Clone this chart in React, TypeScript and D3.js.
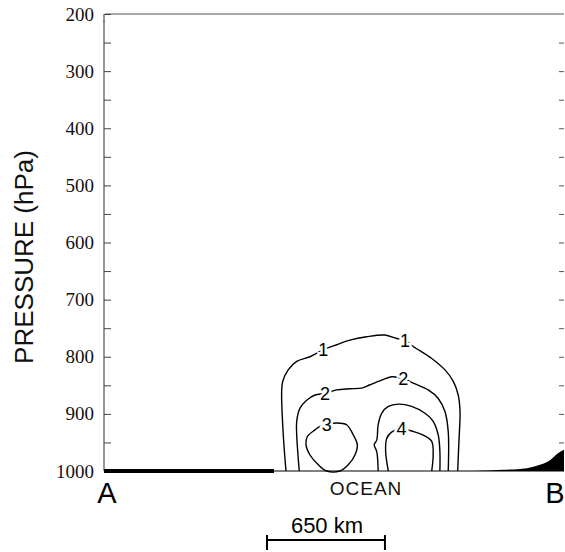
import { useRef, useEffect } from "react";
import * as d3 from "d3";

// distance along A-B in km, pressure in hPa
const contour1: [number, number][] = [
  [1003, 1000], [988, 937], [979, 861], [985, 843], [1015, 823], [1062, 808],
  [1135, 800], [1208, 788], [1282, 779], [1355, 771], [1447, 765], [1548, 762],
  [1613, 768], [1659, 771], [1704, 782], [1806, 803], [1879, 823], [1925, 843],
  [1952, 867], [1962, 896], [1956, 948], [1949, 1000],
];
const contour2: [number, number][] = [
  [1076, 1000], [1062, 937], [1062, 913], [1080, 890], [1117, 876], [1163, 867],
  [1218, 864], [1282, 858], [1355, 856], [1420, 855], [1466, 849], [1530, 841],
  [1585, 835], [1649, 838], [1704, 846], [1787, 858], [1842, 873], [1879, 896],
  [1897, 931], [1897, 1000],
];
const contour3Left: [number, number][] = [
  [1227, 919], [1282, 916], [1337, 919], [1374, 937], [1396, 954], [1383, 972],
  [1346, 989], [1300, 1000], [1227, 1000], [1181, 989], [1135, 972], [1113, 954],
  [1120, 940], [1163, 928], [1190, 922],
];
const contour3Right: [number, number][] = [
  [1511, 1000], [1503, 966], [1489, 954], [1503, 946], [1511, 919], [1530, 899],
  [1567, 887], [1622, 883], [1695, 887], [1769, 899], [1814, 913], [1842, 937],
  [1851, 966], [1851, 1000],
];
const contour4: [number, number][] = [
  [1567, 1000], [1552, 966], [1558, 943], [1585, 932], [1640, 925], [1695, 930],
  [1759, 937], [1806, 948], [1814, 972], [1806, 1000],
];
const contourLabels: { text: string; km: number; p: number }[] = [
  { text: "1", km: 1208, p: 788 },
  { text: "1", km: 1659, p: 771 },
  { text: "2", km: 1218, p: 864 },
  { text: "2", km: 1649, p: 838 },
  { text: "3", km: 1227, p: 919 },
  { text: "4", km: 1640, p: 925 },
];
const terrain: [number, number][] = [
  [2033, 1000], [2198, 998], [2331, 995], [2402, 989], [2458, 981], [2502, 969], [2535, 963],
];
const landEnd = 937; // km, thick land segment from A
const pressureTicks = d3.range(200, 1001, 50);
const scaleKm = 650;

function App() {
  const svgRef = useRef<SVGSVGElement>(null);

  useEffect(() => {
    const svg = d3.select(svgRef.current);
    svg.selectAll("*").remove();

    const x = d3.scaleLinear().domain([0, 2535]).range([104, 564]);
    const y = d3.scaleLinear().domain([200, 1000]).range([14, 471]);

    const line = d3
      .line<[number, number]>()
      .x((d) => x(d[0]))
      .y((d) => y(d[1]))
      .curve(d3.curveCatmullRom.alpha(0.5));
    const loop = d3
      .line<[number, number]>()
      .x((d) => x(d[0]))
      .y((d) => y(d[1]))
      .curve(d3.curveCatmullRomClosed.alpha(0.5));

    // frame
    svg.append("line").attr("x1", 105).attr("x2", 564).attr("y1", y(200)).attr("y2", y(200))
      .attr("stroke", "#555").attr("stroke-width", 1);
    svg.append("line").attr("x1", 104).attr("x2", 104).attr("y1", y(200)).attr("y2", y(200) + 8)
      .attr("stroke", "#333");
    svg.append("line").attr("x1", 104).attr("x2", 104).attr("y1", y(212)).attr("y2", y(1000))
      .attr("stroke", "#333");

    const left = svg.append("g").attr("transform", "translate(104,0)")
      .call(
        d3.axisLeft(y)
          .tickValues(pressureTicks)
          .tickSize(-7)
          .tickPadding(10)
          .tickFormat((d) => (+d % 100 === 0 ? String(d) : ""))
      );
    left.attr("font-family", null).attr("font-size", null);
    left.select(".domain").remove();
    left.selectAll(".tick line").attr("stroke", "#444");
    left.selectAll(".tick text")
      .style("font-family", "'Liberation Serif', 'DejaVu Serif', 'Times New Roman', serif")
      .style("font-size", "19px")
      .attr("fill", "#111")
      .attr("dy", "0.32em");

    const right = svg.append("g").attr("transform", "translate(564,0)")
      .call(
        d3.axisRight(y)
          .tickValues(pressureTicks.filter((d) => d > 200 && d < 1000))
          .tickSize(-5)
          .tickFormat(() => "")
      );
    right.select(".domain").remove();
    right.selectAll(".tick line").attr("stroke", "#555");

    // ground
    svg.append("line").attr("x1", x(0)).attr("x2", x(2535)).attr("y1", y(1000)).attr("y2", y(1000))
      .attr("stroke", "#000").attr("stroke-width", 1);
    svg.append("line").attr("x1", x(0)).attr("x2", x(landEnd)).attr("y1", y(1000)).attr("y2", y(1000))
      .attr("stroke", "#000").attr("stroke-width", 4);
    const area = d3.area<[number, number]>()
      .x((d) => x(d[0]))
      .y0(y(1000))
      .y1((d) => y(d[1]))
      .curve(d3.curveMonotoneX);
    svg.append("path").datum(terrain).attr("d", area).attr("fill", "#000");

    // contours
    const g = svg.append("g").attr("fill", "none").attr("stroke", "#000").attr("stroke-width", 1.4);
    [contour1, contour2, contour3Right, contour4].forEach((c) => {
      g.append("path").datum(c).attr("d", line);
    });
    g.append("path").datum(contour3Left).attr("d", loop);

    svg.append("g").selectAll("text").data(contourLabels).join("text")
      .attr("x", (d) => x(d.km))
      .attr("y", (d) => y(d.p))
      .attr("dy", "0.36em")
      .attr("text-anchor", "middle")
      .attr("font-family", "'Liberation Sans', Arial, sans-serif")
      .attr("font-size", 18)
      .attr("fill", "#000")
      .attr("stroke", "#fff")
      .attr("stroke-width", 5)
      .attr("paint-order", "stroke")
      .text((d) => d.text);

    const sans = "'Liberation Sans', Arial, Helvetica, sans-serif";
    svg.append("text").attr("transform", "translate(33,257) rotate(-90)")
      .attr("text-anchor", "middle").attr("font-family", sans).attr("font-size", 26)
      .attr("fill", "#111").text("PRESSURE (hPa)");
    svg.append("text").attr("x", 107).attr("y", 503).attr("text-anchor", "middle")
      .attr("font-family", sans).attr("font-size", 29).attr("fill", "#000").text("A");
    svg.append("text").attr("x", 555).attr("y", 503).attr("text-anchor", "middle")
      .attr("font-family", sans).attr("font-size", 29).attr("fill", "#000").text("B");
    svg.append("text").attr("x", 366).attr("y", 495).attr("text-anchor", "middle")
      .attr("font-family", sans).attr("font-size", 19).attr("letter-spacing", 1)
      .attr("fill", "#111").text("OCEAN");

    // scale bar
    const x0 = 267;
    const x1 = x0 + (x(scaleKm) - x(0));
    const bar = svg.append("g").attr("stroke", "#000").attr("stroke-width", 2);
    bar.append("line").attr("x1", x0).attr("x2", x1).attr("y1", 540).attr("y2", 540);
    bar.append("line").attr("x1", x0).attr("x2", x0).attr("y1", 535).attr("y2", 550);
    bar.append("line").attr("x1", x1).attr("x2", x1).attr("y1", 535).attr("y2", 550);
    svg.append("text").attr("x", (x0 + x1) / 2 + 1).attr("y", 533).attr("text-anchor", "middle")
      .attr("font-family", sans).attr("font-size", 22).attr("fill", "#000").text(`${scaleKm} km`);
  }, []);

  return (
    <svg
      ref={svgRef}
      width={565}
      height={552}
      style={{ position: "absolute", left: 0, top: 0, background: "#fff" }}
    />
  );
}

export default App;
